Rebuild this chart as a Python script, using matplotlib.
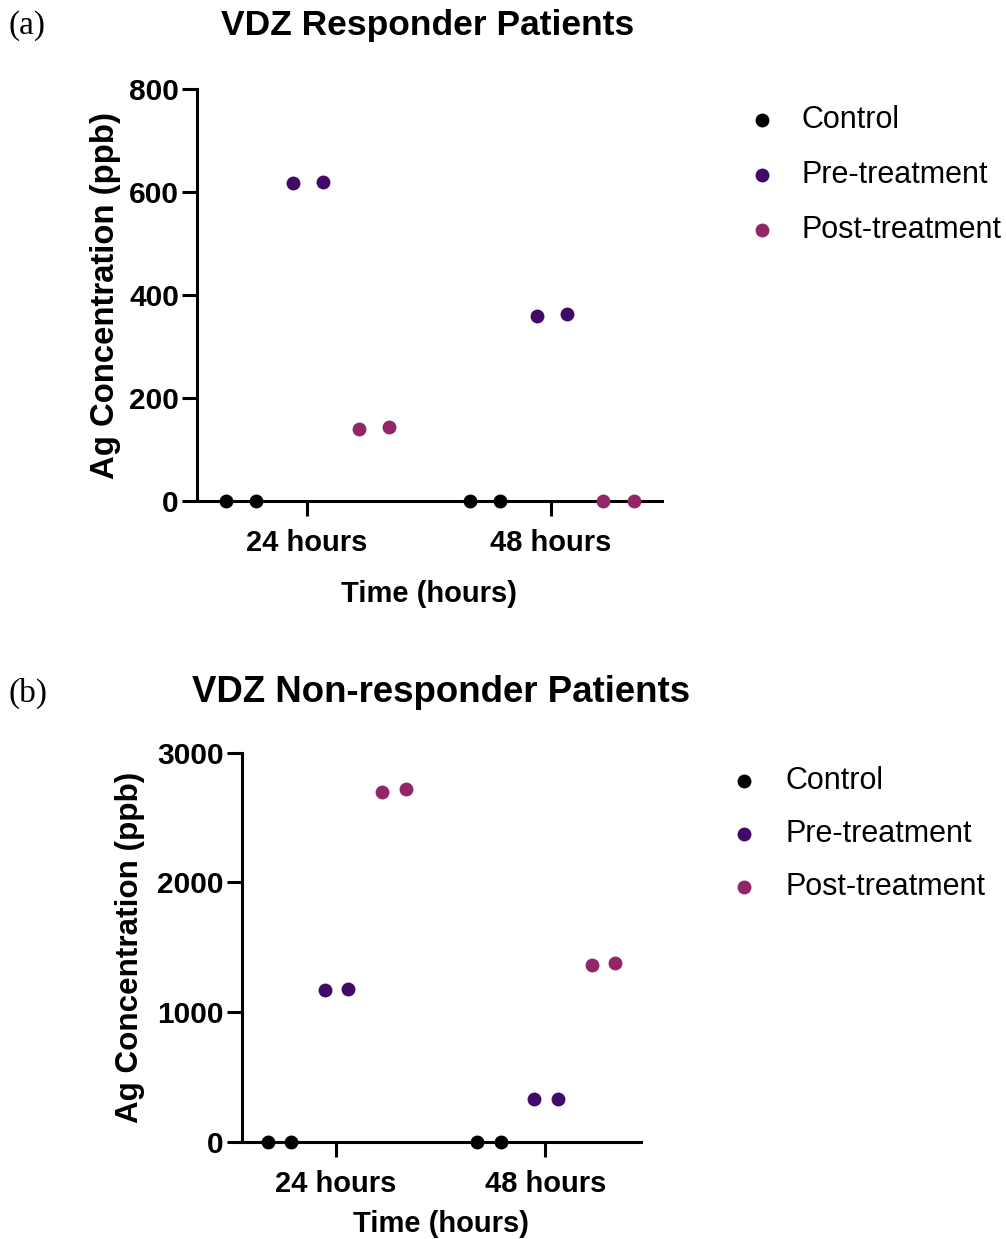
import matplotlib
matplotlib.use('Agg')
import matplotlib.pyplot as plt
import numpy as np

plt.rcParams['font.family'] = ['Liberation Sans', 'DejaVu Sans']

time_labels = ['24 hours', '48 hours']
series_names = ['Control', 'Pre-treatment', 'Post-treatment']
series_colors = ['#000000', '#420a68', '#932667']

# VDZ responders, two replicates per time point
resp_control = [[0, 0], [0, 0]]
resp_pre = [[617, 620], [360, 364]]
resp_post = [[139, 144], [0, 0]]

# VDZ non-responders
nonresp_control = [[0, 0], [0, 0]]
nonresp_pre = [[1170, 1176], [329, 329]]
nonresp_post = [[2699, 2717], [1360, 1375]]


def draw_panel(ax, all_series, yticks, jitter, xlabelpad, ylabelsize, ylabelpad):
    offsets = [-0.27, 0.003, 0.277]
    for k in range(3):
        xs = []
        ys = []
        for g in range(2):
            for r in range(2):
                xs.append(g + offsets[k] + (r - 0.5) * 2 * jitter)
                ys.append(all_series[k][g][r])
        ax.scatter(xs, ys, s=100, color=series_colors[k], label=series_names[k],
                   clip_on=False, zorder=5, linewidths=0)
    ax.set_xlim(-0.45, 1.455)
    ax.set_ylim(yticks[0], yticks[-1])
    ax.set_xticks([0, 1])
    ax.set_xticklabels(time_labels, fontsize=21, fontweight='bold')
    ax.set_yticks(yticks)
    ax.set_yticklabels([str(t) for t in yticks], fontsize=21.5, fontweight='bold')
    ax.spines['top'].set_visible(False)
    ax.spines['right'].set_visible(False)
    ax.spines['left'].set_linewidth(2.2)
    ax.spines['bottom'].set_linewidth(2.2)
    ax.tick_params(axis='x', length=11, width=2.2, pad=9)
    ax.tick_params(axis='y', length=11, width=2.2, pad=2)
    ax.set_xlabel('Time (hours)', fontsize=21, fontweight='bold', labelpad=xlabelpad)
    ax.set_ylabel('Ag Concentration (ppb)', fontsize=ylabelsize, fontweight='bold', labelpad=ylabelpad)


fig = plt.figure(figsize=(10.06, 12.39), dpi=100)

ax1 = fig.add_axes([0.1958, 0.5956, 0.4622, 0.3325])
draw_panel(ax1, [resp_control, resp_pre, resp_post], [0, 200, 400, 600, 800], 0.0615, 17, 23.7, 6)
ax1.legend(loc='upper left', bbox_to_anchor=(1.1235, 0.992), frameon=False, fontsize=22,
           markerscale=1.0, handletextpad=0.3, labelspacing=0.83, borderaxespad=0)

ax2 = fig.add_axes([0.2403, 0.0785, 0.3966, 0.3141])
draw_panel(ax2, [nonresp_control, nonresp_pre, nonresp_post], [0, 1000, 2000, 3000], 0.056, 9, 22.6, 9)
ax2.legend(loc='upper left', bbox_to_anchor=(1.152, 0.998), frameon=False, fontsize=22,
           markerscale=1.0, handletextpad=0.35, labelspacing=0.76, borderaxespad=0)

fig.text(428 / 1006, 1 - 25 / 1239, 'VDZ Responder Patients', fontsize=25.5, fontweight='bold',
         ha='center', va='center')
fig.text(441 / 1006, 1 - 693 / 1239, 'VDZ Non-responder Patients', fontsize=26.4, fontweight='bold',
         ha='center', va='center')
fig.text(8 / 1006, 1 - 26 / 1239, '(a)', fontsize=24, family='Liberation Serif', ha='left', va='center')
fig.text(8 / 1006, 1 - 693 / 1239, '(b)', fontsize=24, family='Liberation Serif', ha='left', va='center')

fig.savefig('out.png', dpi=100)
